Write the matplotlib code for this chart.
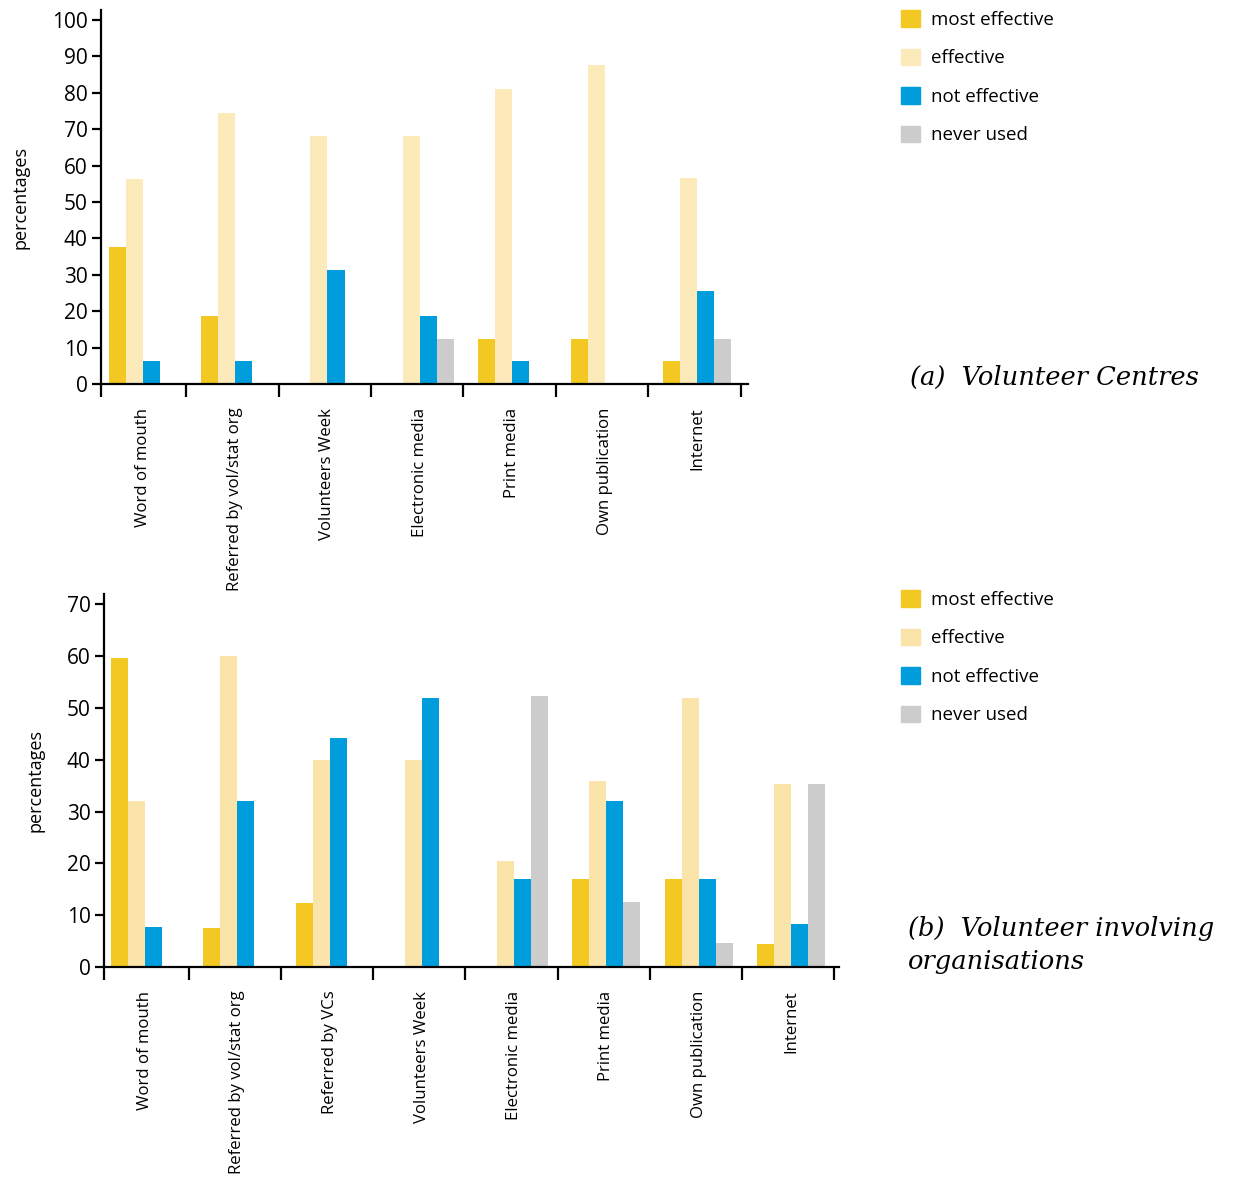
import matplotlib.pyplot as plt
import numpy as np
from matplotlib.patches import Patch

# Volunteer Centres
cats_a = ['Word of mouth', 'Referred by vol/stat org', 'Volunteers Week',
          'Electronic media', 'Print media', 'Own publication', 'Internet']
most_a = [37.5, 18.75, 0, 0, 12.5, 12.5, 6.25]
eff_a = [56.25, 74.5, 68.0, 68.0, 81.0, 87.5, 56.5]
not_a = [6.25, 6.25, 31.25, 18.75, 6.25, 0, 25.5]
never_a = [0, 0, 0, 12.5, 0, 0, 12.5]

# Volunteer involving organisations
cats_b = ['Word of mouth', 'Referred by vol/stat org', 'Referred by VCs', 'Volunteers Week',
          'Electronic media', 'Print media', 'Own publication', 'Internet']
most_b = [59.6, 7.6, 12.4, 0, 0, 17.0, 17.0, 4.5]
eff_b = [32.0, 60.0, 40.0, 40.0, 20.4, 36.0, 52.0, 35.3]
not_b = [7.7, 32.0, 44.2, 52.0, 17.0, 32.0, 17.0, 8.3]
never_b = [0, 0, 0, 0, 52.3, 12.5, 4.6, 35.3]

labels = ['most effective', 'effective', 'not effective', 'never used']
c_most = '#F4C823'
c_eff_a = '#FDEABB'
c_eff_b = '#FBE4A9'
c_not = '#009DDC'
c_never = '#CCCCCC'

plt.rcParams['font.family'] = ['Open Sans', 'DejaVu Sans']

fig = plt.figure(figsize=(12.43, 11.78), dpi=100)
ax1 = fig.add_axes([0.0813, 0.6740, 0.5205, 0.3175])
ax2 = fig.add_axes([0.0834, 0.1791, 0.5915, 0.3166])


def draw(ax, cats, series, colors, ymax, ytop, right):
    n = len(cats)
    x = np.arange(n)
    w = 0.184
    for j, (vals, col) in enumerate(zip(series, colors)):
        ax.bar(x + 0.03 + (j - 1.5) * w, vals, width=w, color=col, linewidth=0)
    ax.set_xlim(-0.42, right)
    ax.set_ylim(0, ytop)
    ax.set_yticks(np.arange(0, ymax + 1, 10))
    ax.set_xticks(np.r_[-0.42, np.arange(n) + 0.5])
    ax.set_xticklabels([])
    ax.set_xticks(x + 0.03, minor=True)
    ax.set_xticklabels(cats, minor=True, rotation=90, fontsize=12.1)
    ax.tick_params(axis='x', which='major', direction='out', length=9, width=1.6)
    ax.tick_params(axis='x', which='minor', length=0, pad=17)
    ax.tick_params(axis='y', direction='out', length=6.5, width=1.6, labelsize=15, pad=3)
    for s in ['top', 'right']:
        ax.spines[s].set_visible(False)
    for s in ['left', 'bottom']:
        ax.spines[s].set_linewidth(1.6)
    ax.set_ylabel('percentages', fontsize=13, labelpad=16)
    ax.patch.set_visible(False)


draw(ax1, cats_a, [most_a, eff_a, not_a, never_a], [c_most, c_eff_a, c_not, c_never], 100, 102.7, 6.58)
draw(ax2, cats_b, [most_b, eff_b, not_b, never_b], [c_most, c_eff_b, c_not, c_never], 70, 72, 7.55)

for ax, c_eff, ytop in [(ax1, c_eff_a, 1 - 10 / 1178), (ax2, c_eff_b, 1 - 590 / 1178)]:
    handles = [Patch(color=c) for c in [c_most, c_eff, c_not, c_never]]
    ax.legend(handles, labels, loc='upper left', bbox_to_anchor=(901 / 1243, ytop),
              bbox_transform=fig.transFigure, frameon=False, fontsize=13.5,
              handlelength=1.0, handleheight=1.0, handletextpad=0.6,
              labelspacing=1.05, borderpad=0, borderaxespad=0)

fig.text(910 / 1243, 1 - 377 / 1178, '(a)  Volunteer Centres', family='DejaVu Serif',
         style='italic', fontsize=18.5, va='center', ha='left')
fig.text(908 / 1243, 1 - 945 / 1178, '(b)  Volunteer involving\norganisations', family='DejaVu Serif',
         style='italic', fontsize=18.5, va='center', ha='left', linespacing=1.4)

fig.savefig('out.png', dpi=100)
